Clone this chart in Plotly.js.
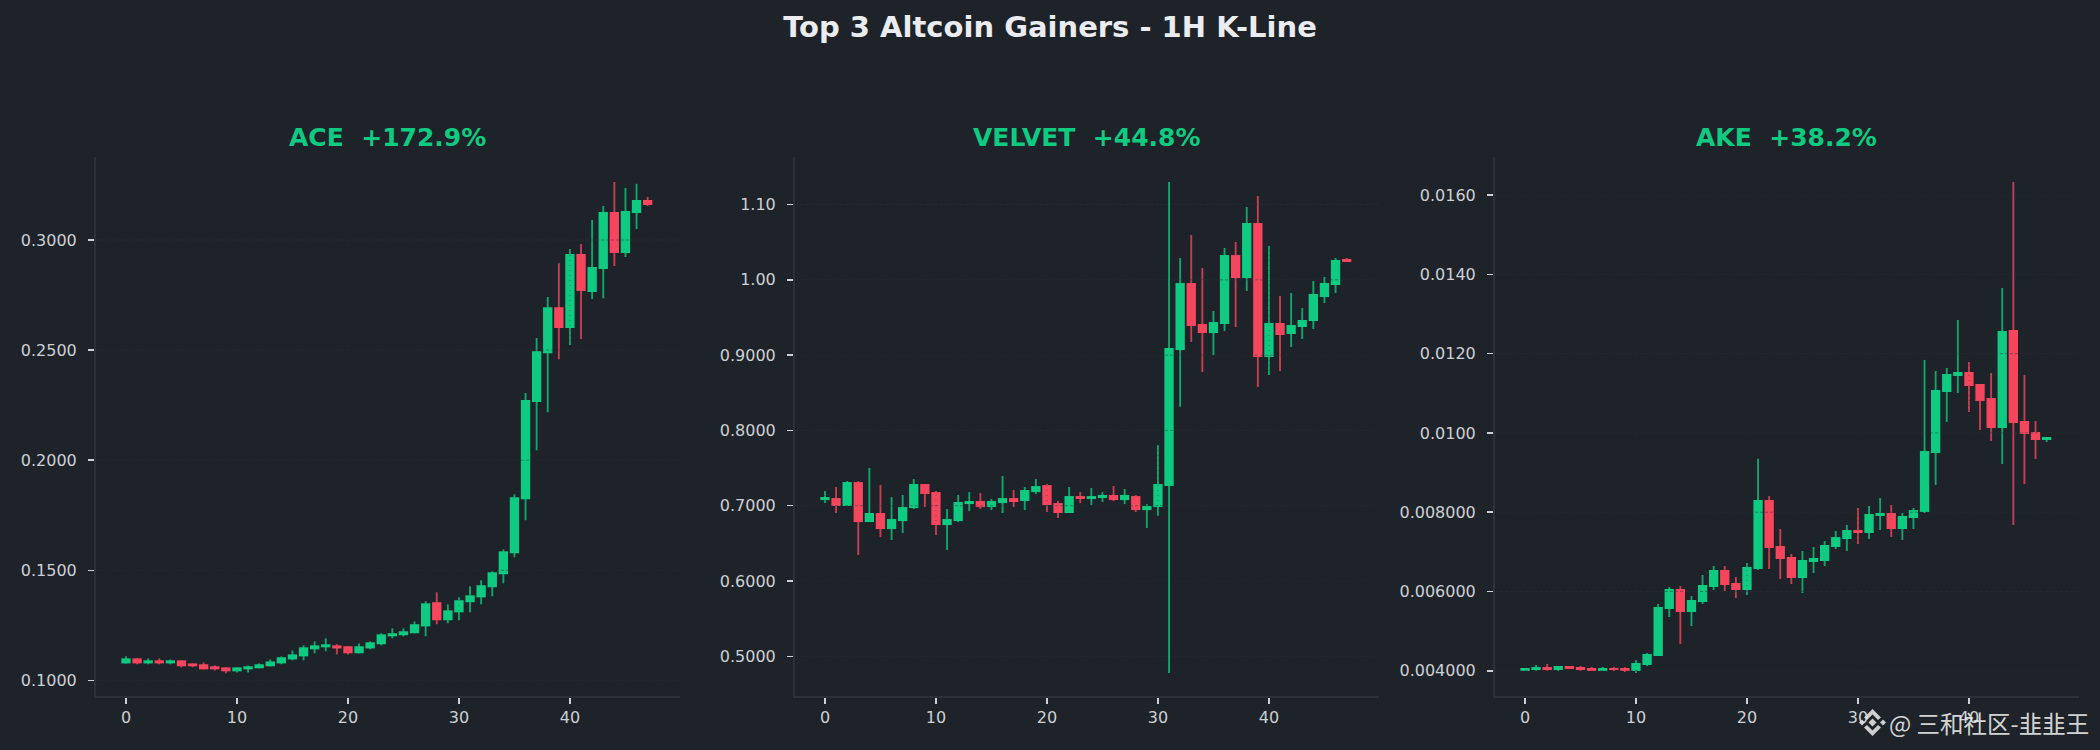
<!DOCTYPE html>
<html>
<head>
<meta charset="utf-8">
<script src="https://cdn.plot.ly/plotly-3.0.1.min.js"></script>
<style>html,body{margin:0;padding:0;background:#1e2329;}#chart{width:2100px;height:750px;}</style>
</head>
<body>
<div id="chart"></div>
<script>
const mainTitle = "Top 3 Altcoin Gainers - 1H K-Line";
const panelTitles = ["ACE  +172.9%", "VELVET  +44.8%", "AKE  +38.2%"];
const watermark = "@ 三和社区-韭韭王";

const xTicks = [0, 10, 20, 30, 40];

const aceTicks = [0.1, 0.15, 0.2, 0.25, 0.3];
const aceLabels = ["0.1000", "0.1500", "0.2000", "0.2500", "0.3000"];
const aceOpen = [.1077,.1100,.1077,.1091,.1077,.1091,.1077,.1073,.1064,.1059,.1041,.1050,.1055,.1064,.1077,.1095,.1109,.1141,.1150,.1159,.1155,.1123,.1145,.1164,.1200,.1205,.1214,.1245,.1355,.1273,.1309,.1355,.1377,.1423,.1482,.1577,.1823,.2264,.2486,.2695,.2600,.2936,.2764,.2868,.3127,.2941,.3123,.3182];
const aceClose = [.1100,.1077,.1091,.1077,.1091,.1064,.1064,.1050,.1050,.1041,.1059,.1064,.1073,.1086,.1105,.1118,.1150,.1159,.1164,.1145,.1123,.1155,.1173,.1209,.1214,.1223,.1255,.1350,.1273,.1318,.1364,.1386,.1432,.1491,.1586,.1832,.2273,.2495,.2695,.2600,.2936,.2768,.2877,.3127,.2941,.3132,.3182,.3159];
const aceHigh = [.1109,.1100,.1100,.1100,.1095,.1091,.1077,.1082,.1068,.1059,.1059,.1068,.1077,.1095,.1109,.1136,.1159,.1177,.1191,.1164,.1155,.1168,.1177,.1214,.1236,.1236,.1268,.1359,.1400,.1345,.1377,.1427,.1455,.1495,.1595,.1845,.2305,.2555,.2741,.2895,.2959,.2982,.3091,.3155,.3264,.3236,.3255,.3195];
const aceLow = [.1077,.1073,.1073,.1073,.1073,.1059,.1059,.1050,.1045,.1032,.1036,.1036,.1055,.1064,.1073,.1091,.1091,.1123,.1132,.1118,.1118,.1123,.1141,.1159,.1191,.1200,.1214,.1200,.1255,.1259,.1273,.1309,.1345,.1382,.1441,.1559,.1727,.2045,.2218,.2459,.2523,.2550,.2732,.2736,.2882,.2923,.3050,.3155];

const velvetTicks = [0.5, 0.6, 0.7, 0.8, 0.9, 1.0, 1.1];
const velvetLabels = ["0.5000", "0.6000", "0.7000", "0.8000", "0.9000", "1.00", "1.10"];
const velvetOpen = [.7075,.7102,.6996,.7314,.6783,.6903,.6690,.6796,.6969,.7288,.7181,.6743,.6796,.7022,.7062,.6982,.7035,.7102,.7062,.7181,.7274,.7035,.6903,.7128,.7089,.7102,.7142,.7075,.7128,.6942,.6982,.7261,.9067,.9957,.9413,.9293,.9413,1.0329,1.0023,1.0754,.8974,.9426,.9280,.9373,.9452,.9771,.9931,1.0276];
const velvetClose = [.7115,.6996,.7314,.6783,.6903,.6690,.6823,.6982,.7288,.7155,.6743,.6823,.7049,.7062,.6982,.7062,.7102,.7049,.7208,.7261,.7009,.6903,.7128,.7089,.7128,.7142,.7075,.7142,.6942,.6996,.7288,.9094,.9957,.9386,.9293,.9439,1.0329,1.0023,1.0754,.8974,.9426,.9266,.9399,.9466,.9811,.9957,1.0263,1.0236];
const velvetHigh = [.7195,.7248,.7328,.7328,.7500,.7274,.7115,.7142,.7354,.7288,.7195,.6956,.7142,.7181,.7168,.7089,.7394,.7208,.7248,.7354,.7288,.7062,.7248,.7181,.7235,.7181,.7261,.7221,.7142,.7022,.7806,1.1298,1.0289,1.0594,1.0156,.9585,1.0422,1.0502,1.0966,1.1112,1.0448,.9784,.9824,.9625,.9984,1.0037,1.0289,1.0289];
const velvetLow = [.7035,.6903,.6996,.6345,.6783,.6584,.6544,.6637,.6956,.6982,.6610,.6411,.6783,.6929,.6956,.6942,.6903,.6982,.6942,.7155,.6916,.6836,.6903,.7035,.7009,.7049,.7062,.7022,.6916,.6703,.6863,.4778,.8315,.9174,.8775,.9000,.9320,.9373,.9851,.8576,.8735,.8788,.9107,.9213,.9346,.9691,.9824,1.0236];

const akeTicks = [0.004, 0.006, 0.008, 0.01, 0.012, 0.014, 0.016];
const akeLabels = ["0.004000", "0.006000", "0.008000", "0.0100", "0.0120", "0.0140", "0.0160"];
const akeOpen = [.003995,.004020,.004096,.004020,.004121,.004096,.004071,.003995,.004071,.004071,.003995,.004146,.004373,.005559,.006063,.005483,.005735,.006114,.006542,.006214,.006038,.006567,.008308,.007147,.006870,.006340,.006744,.006769,.007122,.007324,.007551,.007476,.007904,.007980,.007577,.007854,.008005,.009493,.011032,.011436,.011537,.011234,.010880,.010124,.012595,.010300,.010022,.009821];
const akeClose = [.004071,.004096,.004020,.004121,.004045,.004020,.003995,.004071,.004020,.003995,.004197,.004424,.005609,.006063,.005483,.005786,.006164,.006542,.006164,.006038,.006618,.008308,.007097,.006820,.006340,.006794,.006845,.007173,.007374,.007551,.007476,.007955,.007980,.007577,.007904,.008055,.009543,.011082,.011486,.011537,.011183,.010805,.010124,.012570,.010250,.009972,.009821,.009897];
const akeHigh = [.004071,.004146,.004171,.004121,.004121,.004121,.004096,.004096,.004096,.004096,.004272,.004449,.005685,.006114,.006139,.005887,.006416,.006643,.006643,.006366,.006719,.00935,.008408,.007576,.006946,.007021,.007122,.007274,.007526,.007677,.008105,.008156,.008358,.008181,.007980,.008106,.011839,.011561,.011637,.012848,.011788,.011234,.011511,.013654,.016328,.011460,.010300,.009897];
const akeLow = [.003995,.003995,.003995,.003995,.004045,.003995,.003995,.003995,.003995,.003970,.003945,.004121,.004373,.005357,.004676,.005130,.005685,.006038,.006013,.005836,.005912,.006542,.006567,.006315,.006189,.005962,.006467,.006643,.007072,.007021,.007198,.007324,.007551,.007375,.007299,.007577,.007980,.008686,.010275,.011006,.010527,.010073,.009796,.009216,.007677,.008711,.009342,.009771];

const UP = "#0ecb81", DOWN = "#f6465d", BG = "#1e2329", SPINE = "#2b3139", TICK = "#cdd0d4", TXT = "#eaecef";
const W = 2100, H = 750;
const FONT = "DejaVu Sans";

const panels = [
  {o: aceOpen, h: aceHigh, l: aceLow, c: aceClose, ticks: aceTicks, labels: aceLabels, yr: [0.0929, 0.3377], left: 96},
  {o: velvetOpen, h: velvetHigh, l: velvetLow, c: velvetClose, ticks: velvetTicks, labels: velvetLabels, yr: [0.4473, 1.1631], left: 795},
  {o: akeOpen, h: akeHigh, l: akeLow, c: akeClose, ticks: akeTicks, labels: akeLabels, yr: [0.003364, 0.01696], left: 1495}
];
const PW = 583.6, TOP = 157, BOT = 696;

const traces = [], shapes = [], annotations = [], layout = {};

panels.forEach((p, i) => {
  const sfx = i === 0 ? "" : String(i + 1);
  const xa = "x" + sfx, ya = "y" + sfx;
  const xs = p.o.map((_, k) => k);
  const cols = p.o.map((v, k) => p.c[k] >= v ? UP : DOWN);
  traces.push({type: "bar", x: xs, y: p.h.map((v, k) => v - p.l[k]), base: p.l, width: 0.17,
    xaxis: xa, yaxis: ya, marker: {color: cols, opacity: 0.78, line: {width: 0}}, hoverinfo: "skip", showlegend: false});
  traces.push({type: "bar", x: xs, y: p.c.map((v, k) => Math.abs(v - p.o[k])), base: p.c.map((v, k) => Math.min(v, p.o[k])), width: 0.84,
    xaxis: xa, yaxis: ya, marker: {color: cols, line: {width: 0}}, hoverinfo: "skip", showlegend: false});

  layout["xaxis" + sfx] = {
    domain: [p.left / W, (p.left + PW) / W], range: [-2.7, 49.88], anchor: ya,
    tickmode: "array", tickvals: xTicks, ticktext: xTicks.map(String), ticks: "outside", ticklen: 6, tickwidth: 1.5, tickcolor: TICK,
    tickfont: {family: FONT, size: 16, color: TICK}, showgrid: false, zeroline: false,
    showline: true, linecolor: SPINE, linewidth: 2
  };
  layout["yaxis" + sfx] = {
    domain: [1 - BOT / H, 1 - TOP / H], range: p.yr, anchor: xa,
    tickmode: "array", tickvals: p.ticks, ticktext: p.labels, ticks: "outside", ticklen: 6, tickwidth: 1.5, tickcolor: TICK,
    ticklabelstandoff: 8,
    tickfont: {family: FONT, size: 16, color: TICK}, showgrid: false, zeroline: false,
    showline: true, linecolor: SPINE, linewidth: 2
  };
  p.ticks.forEach(t => shapes.push({type: "line", layer: "above", xref: xa + " domain", yref: ya, x0: 0, x1: 1, y0: t, y1: t,
    line: {color: "rgba(43,49,57,0.45)", width: 1, dash: "3px,2px"}}));
  xTicks.forEach(t => shapes.push({type: "line", layer: "above", xref: xa, yref: ya + " domain", x0: t, x1: t, y0: 0, y1: 1,
    line: {color: "rgba(43,49,57,0.45)", width: 1, dash: "1px,4px"}}));
  annotations.push({xref: "paper", yref: "paper", x: (p.left + PW / 2) / W, y: 1 - 138 / H, xanchor: "center", yanchor: "middle",
    text: "<b>" + panelTitles[i] + "</b>", showarrow: false, font: {family: FONT, size: 25, color: UP}});
});

annotations.push({xref: "paper", yref: "paper", x: 2091 / W, y: 1 - 723 / H, xanchor: "right", yanchor: "middle", text: watermark, showarrow: false,
  font: {family: "Noto Sans CJK SC", size: 23.5, color: "rgba(235,235,235,0.9)"}});

// Watermark logo, drawn in figure coordinates
const LX = 1872.5, LY = 722.5;
const poly = pts => "M" + pts.map(q => ((LX + q[0]) / W).toFixed(5) + "," + (1 - (LY + q[1]) / H).toFixed(5)).join("L") + "Z";
const dia = (cx, r) => poly([[cx, -r], [cx + r, 0], [cx, r], [cx - r, 0]]);
const logoPath = [
  dia(0, 4), dia(-10.5, 3), dia(10.5, 3),
  poly([[0, -13.5], [8.5, -5], [5.5, -2.5], [0, -8], [-5.5, -2.5], [-8.5, -5]]),
  poly([[0, 13.5], [8.5, 5], [5.5, 2.5], [0, 8], [-5.5, 2.5], [-8.5, 5]])
].join("");
shapes.push({type: "path", layer: "above", xref: "paper", yref: "paper", path: logoPath, fillcolor: "rgba(225,225,225,0.9)", line: {width: 0}});

Object.assign(layout, {
  width: W, height: H, paper_bgcolor: BG, plot_bgcolor: BG,
  margin: {l: 0, r: 0, t: 0, b: 0}, barmode: "overlay", showlegend: false, hovermode: false,
  title: {text: "<b>" + mainTitle + "</b>", x: 0.5, xanchor: "center", xref: "paper", y: 1 - 27 / H, yanchor: "middle", yref: "container",
    font: {family: FONT, size: 29, color: TXT}},
  shapes: shapes, annotations: annotations
});

Plotly.newPlot("chart", traces, layout, {displayModeBar: false, staticPlot: true});
</script>
</body>
</html>
